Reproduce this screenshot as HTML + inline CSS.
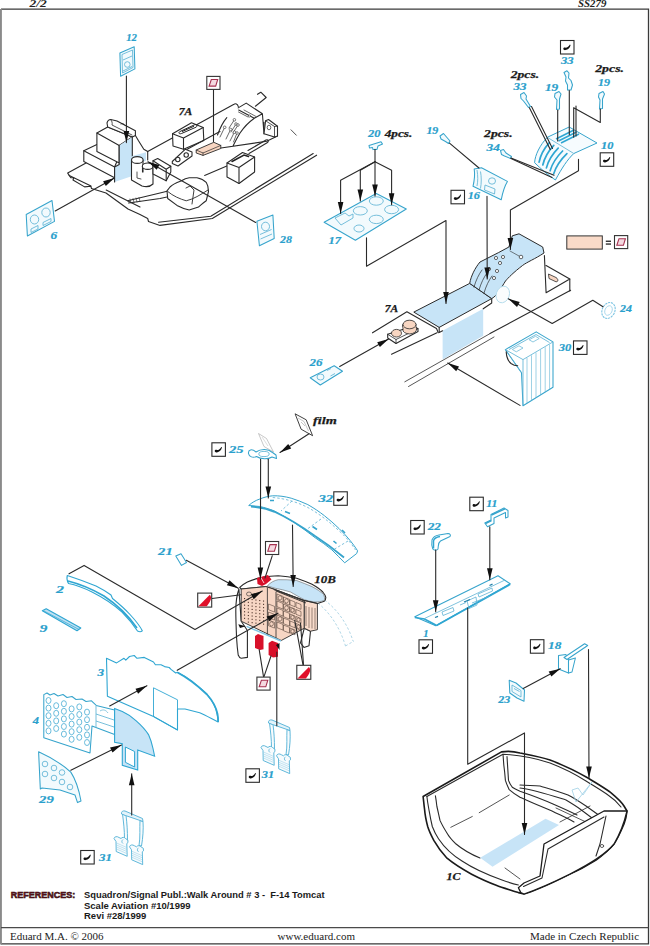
<!DOCTYPE html>
<html><head><meta charset="utf-8">
<style>
html,body{margin:0;padding:0;background:#fff;}
svg{display:block;}
.lb{font-family:"Liberation Serif",serif;font-weight:bold;font-style:italic;font-size:11px;fill:#2aa0cc;stroke:#2aa0cc;stroke-width:0.2;}
.bk{font-family:"Liberation Serif",serif;font-weight:bold;font-style:italic;font-size:11px;fill:#1a1a1a;stroke:#1a1a1a;stroke-width:0.25;}
.ln{fill:none;stroke:#2a2a2a;stroke-width:1.1;stroke-linejoin:round;stroke-linecap:round;}
.ol{fill:#fff;stroke:#2a2a2a;stroke-width:1.1;stroke-linejoin:round;}
.cy{fill:#f2fafd;stroke:#36a4cc;stroke-width:1.05;stroke-linejoin:round;}
.cyl{fill:none;stroke:#5eb3d4;stroke-width:0.85;}
.bl{fill:#c7e4f7;stroke:none;}
.ft{font-family:"Liberation Serif",serif;font-size:11px;fill:#222;}
.rf{font-family:"Liberation Sans",sans-serif;font-weight:bold;font-size:9.5px;fill:#1a1a1a;}
</style></head>
<body>
<svg width="650" height="946" viewBox="0 0 650 946">
<defs>
  <marker id="ar" viewBox="0 0 10 10" refX="10" refY="5" markerWidth="7" markerHeight="5" orient="auto" markerUnits="userSpaceOnUse">
    <path d="M0,0 L10,5 L0,10 z" fill="#111"/>
  </marker>
  <g id="p31">
    <path d="M122.5,814 C123.5,822 124.5,830 124.5,839 L127.5,840 C127.5,831 127,823 126,815.5 Z" fill="#f7fbfd" stroke="#4fb0d6" stroke-width="0.9"/>
    <path d="M140,820.5 L143,821.5 C143.5,829 143,837 141.5,846 L139,845.5 C140.5,837 139.5,828 140,820.5 Z" fill="#f7fbfd" stroke="#4fb0d6" stroke-width="0.9"/>
    <path d="M121.5,814 C121,811.5 123,810.5 125,811 L142.5,818.5 L143,821.5 L125.5,815.5 Z" fill="#e3f3fa" stroke="#4fb0d6" stroke-width="0.9" stroke-linejoin="round"/>
    <path d="M114,838.5 C114.5,836.5 117,836 119,837.5 L121,838.5 C122,837 124.5,837 125.5,838.5 L127.8,840 L128,842.5 L126.8,843.5 L127.2,856.3 L116.2,851.5 L116,841.5 Z" fill="#f7fbfd" stroke="#4fb0d6" stroke-width="0.9" stroke-linejoin="round"/>
    <path d="M116.5,845 L126.8,849.5 M116.5,847 L126.8,851.5 M116.5,849 L126.8,853.5 M116.5,843 L126.8,847.5" fill="none" stroke="#8ccbe4" stroke-width="0.5"/>
    <path d="M123,839.5 C121.5,840.5 121.5,842.5 123,843.5" fill="none" stroke="#4fb0d6" stroke-width="0.8"/>
    <g transform="translate(15.5,8.3)"><path d="M114,838.5 C114.5,836.5 117,836 119,837.5 L121,838.5 C122,837 124.5,837 125.5,838.5 L127.8,840 L128,842.5 L126.8,843.5 L127.2,856.3 L116.2,851.5 L116,841.5 Z" fill="#f7fbfd" stroke="#4fb0d6" stroke-width="0.9" stroke-linejoin="round"/>
    <path d="M116.5,845 L126.8,849.5 M116.5,847 L126.8,851.5 M116.5,849 L126.8,853.5 M116.5,843 L126.8,847.5" fill="none" stroke="#8ccbe4" stroke-width="0.5"/>
    <path d="M123,839.5 C121.5,840.5 121.5,842.5 123,843.5" fill="none" stroke="#4fb0d6" stroke-width="0.8"/></g>
  </g>
  <g id="chk">
    <rect x="0.5" y="0.5" width="13.5" height="13.5" fill="#fff" stroke="#2a2a2a" stroke-width="1.1"/>
    <path d="M3.3,8.7 C3.3,7.5 4.7,7.1 5.7,7.7 C7.3,7.7 8.9,6.7 9.9,4.6 L10.6,4.9 C10,7.7 8.1,9.7 5.5,10.1 C4.3,10.3 3.3,9.7 3.3,8.7 Z" fill="#111"/>
  </g>
  <g id="pnt">
    <rect x="0.5" y="0.5" width="13.2" height="13" fill="#fff" stroke="#333" stroke-width="1.1"/>
    <path d="M5,3.6 L11.4,3.6 L9.4,10.2 L2.8,10.2 z" fill="#f4d9e0" stroke="#a5304f" stroke-width="1.1"/>
  </g>
  <g id="hrd">
    <rect x="0.5" y="0.5" width="14" height="14" fill="#fff" stroke="#333" stroke-width="1.1"/>
    <path d="M1.2,13.6 L12.6,2.2 C14.2,3.6 14.2,6 13,8.5 C12,10.5 10.8,12.3 9.6,13.6 Z" fill="#e0102a"/>
  </g>
</defs>

<!-- frame -->
<g id="frame">
  <path d="M1,9.2 H648.5 V943.9 H1" fill="none" stroke="#3a3a3a" stroke-width="1.3"/><rect x="0" y="9" width="1.9" height="935.5" fill="#8a8a8a"/>
  <path d="M1,927.6 H648.5" stroke="#4a4a4a" stroke-width="1.4"/>
  <text x="29.5" y="7" class="ft" style="font-style:italic;font-weight:bold;font-size:10px" textLength="17.3" lengthAdjust="spacingAndGlyphs">2/2</text>
  <text x="578" y="7" class="ft" style="font-style:italic;font-weight:bold;font-size:10px" textLength="28.4" lengthAdjust="spacingAndGlyphs">SS279</text>
  <text x="10" y="940" class="ft">Eduard M.A. © 2006</text>
  <text x="277.5" y="940" class="ft">www.eduard.com</text>
  <text x="530" y="940" class="ft">Made in Czech Republic</text>
  <text x="10.8" y="898" class="rf" style="font-size:9.6px;fill:#7a1525;stroke:#2a0a0a;stroke-width:0.55" textLength="64.5" lengthAdjust="spacingAndGlyphs">REFERENCES:</text>
  <text x="84" y="898" class="rf" textLength="240.6" lengthAdjust="spacingAndGlyphs" xml:space="preserve">Squadron/Signal Publ.:Walk Around # 3 -  F-14 Tomcat</text>
  <text x="84" y="908.5" class="rf">Scale Aviation #10/1999</text>
  <text x="84" y="919" class="rf">Revi #28/1999</text>
</g>


<g id="tla">
  <!-- plate silhouette -->
  <path fill="#fff" d="M67.7,173.1 L91.5,160 L91.5,151 L83.8,150.8 L96.9,144.6 L96.9,133.1 L107,122.3 L110.8,119.2 L117,121.5 L135.4,131.5 L135.4,135.4 L138.5,140.8 L143.8,149.2 L147.7,151.5 L175.4,139.2 L199.4,123.4 L233.8,105.1 L238.2,106.2 L244.6,104 L258.6,110.5 L263,112.6 L264,122.3 L268.3,120.2 L277,125.5 L278,136.3 L274.8,138.5 L300,150 L316.6,155.2 L240,205.4 L212.3,218.5 L160,225.4 L148.5,221.5 L147.7,218.5 L140,214.6 L128,209 L106,193 L91.5,188.5 L90.8,186.2 L84.6,186.9 L73,180 L73.8,177.7 L70.8,177.7 L69.2,175.4 Z"/>
  <path class="ln" d="M91.5,160 L67.7,173.1 L69.2,175.4 L70.8,177.7 L73.8,177.7 L73,180 L84.6,186.9 L90.8,186.2 L91.5,188.5 L106,193 L128,209 L140,214.6 L147.7,218.5 L148.5,221.5 L160,225.4 L212.3,218.5 L316.6,155.2"/>
  <path class="ln" d="M147.7,151.5 L234,104.2 C235.5,103.3 237.5,104 238.3,106.7"/>
  <path class="ln" d="M69.2,175.4 L91,186 M106.2,190 L128,201 L140,207 M158.5,222.3 L210.8,216.2 L313.2,153.5"/>
  <path class="ln" d="M127.7,200.8 L160,193 L169.2,190.8 M128.5,203 L160,198.5 L167,197 M204.6,175.4 L228,165.5"/>
  <path class="ln" d="M248,150.5 L266,140 C268,139 269,141 267.5,142.5 L249,153.5"/>
  <path class="ln" style="stroke-width:0.6" d="M130,199 L131,203 M133,198.5 L134,202.5 M136,198 L137,202 M139,197.5 L140,201.5"/>
  <!-- step block -->
  <path class="ol" d="M83.8,150.8 L96.9,144.6 L119.2,156 L114.6,167 L114.6,177.7 L83.8,161.5 Z"/>
  <path class="ln" d="M83.8,150.8 L114.6,167"/>
  <!-- top box -->
  <path class="ol" d="M96.9,133.1 L107.7,126.9 L132.3,136.9 L119.2,145.4 L119.2,163 L96.9,151.5 Z"/>
  <path class="ln" d="M96.9,133.1 L119.2,145.4"/>
  <path class="ol" d="M107,123 C107.5,121 109,119.5 110.8,119.5 L117,121 L135.4,130.8 L135.4,135.4 L132.3,137 L107.7,127 Z"/>
  <path class="ln" style="stroke-width:0.8" d="M110.8,119.5 C112,121 112.5,123 112,125 L132,135 M121,124 C122,123 124,123.5 124.5,125"/>
  <!-- blue panel -->
  <path d="M119.2,145.4 L132.3,136.9 L132.3,176 L114.6,182 L114.6,167 L119.2,164.5 Z" fill="#c7e4f7"/>
  <path class="ln" d="M119.2,145.4 L119.2,164.5 L114.6,167 L114.6,182 M132.3,136.9 L132.3,156"/>
  <path d="M132.3,156 L146,152.3 L146,160.8 L132.3,165 Z" fill="#c7e4f7"/>
  <path class="ln" d="M135.4,135.4 L138.5,140.8 L143.8,149.2 L147.7,151.5 L147.7,160"/>
  <!-- cylinders -->
  <path class="ol" d="M131.5,177.7 L131.5,160 L143,160 L143,172 L142.5,172 L142.5,166 L153,166 L153,184 C150,187 146,187 142,186 L131.5,180 Z"/>
  <ellipse cx="137.3" cy="160" rx="5.8" ry="3.4" class="ol"/>
  <ellipse cx="147.7" cy="166.2" rx="5.4" ry="3.2" class="ol"/>
  <path class="ln" style="stroke-width:0.8" d="M137,172 L137,178 L141,179"/>
  <!-- small block near arrow -->
  <path class="ol" d="M153,160.8 L157.7,158.5 L170.8,166.2 L170.8,172 L166.2,180.8 L153,174 Z"/>
  <path class="ln" d="M153,160.8 L166.2,169.2 L170.8,166.2 M166.2,169.2 L166.2,180.8"/>
  <!-- monitor 1 -->
  <path class="ol" d="M172.5,133.8 L191.5,122.7 L203.2,127.6 L203.8,140.5 L183.5,149.2 L173,146 Z"/>
  <path class="ln" d="M172.5,133.8 L183.5,138 L203.2,127.6 M183.5,138 L183.5,149.2"/>
  <path fill="none" stroke="#222" stroke-width="1" d="M180,131.5 L194.5,124.8 C196.5,124 198,126 196,127.2 L181.5,133.5 C179,134.5 178,132.5 180,131.5 Z M182,131.6 L194,126.2"/>
  <path class="ln" d="M187.2,149.2 L214.3,134.4 L220,131.5"/>
  <!-- buttons -->
  <path class="ol" d="M172.3,161.5 L185.4,149.2 L192,152 L192,156 L178,166 L172.3,163.5 Z"/>
  <circle cx="177.8" cy="159.5" r="2.2" class="ol"/><circle cx="186.2" cy="155" r="2.2" class="ol"/>
  <!-- peach box -->
  <path d="M196.2,150 L213.8,142.3 L220.8,145.4 L220.8,148.5 L203,155.4 L196.2,153 Z" fill="#f8d6c2" stroke="#2a2a2a" stroke-width="0.9"/>
  <path class="ln" d="M196.2,150 L203,153 L220.8,145.4 M203,153 L203,155.4" style="stroke-width:0.7"/>
  <!-- console ridge / block -->
  <path class="ln" d="M238.2,107.9 L246.2,103.1 L262.4,113.8 L264,133.8 M238.7,110 L254.3,118.2 L262.4,113.8 M254.3,118.2 C249,122 244,127 240,133 C237,138 235,142 233,146 M226.8,117.6 C223,122 220,128 217.5,135 M221,148 L266.7,141.3 L277.5,136 M264,122.3 L264,133.8"/>
  <path class="ln" style="stroke-width:0.7" d="M234.4,119.8 L229,128 M236,124 L231,132 M238,125 L233,133 M224.7,127.3 L220,137 M230.6,129.5 L226,139 M234.4,132.2 L230,141 M237,133 L233.5,142 M238.5,112 L248,117 M244,110 L256,116.5"/>
  <circle cx="234.4" cy="119.8" r="1.3" class="ol" style="stroke-width:0.6"/><circle cx="236" cy="124" r="1.3" class="ol" style="stroke-width:0.6"/><circle cx="238" cy="125" r="1.3" class="ol" style="stroke-width:0.6"/>
  <circle cx="224.7" cy="127.3" r="1.3" class="ol" style="stroke-width:0.6"/><circle cx="230.6" cy="129.5" r="1.3" class="ol" style="stroke-width:0.6"/><circle cx="234.4" cy="132.2" r="1.3" class="ol" style="stroke-width:0.6"/><circle cx="237" cy="133" r="1.3" class="ol" style="stroke-width:0.6"/>
  <circle cx="249.5" cy="116" r="1.1" class="ol" style="stroke-width:0.6"/>
  <path class="ol" d="M265.6,120.8 L268.5,119.5 L277.5,126.2 L277.5,136 L274.5,137 L264,133.8 Z"/>
  <path class="ln" style="stroke-width:0.8" d="M265.6,120.8 L274.5,126.5 L277.5,126.2 M274.5,126.5 L274.5,137"/>
  <ellipse cx="269" cy="127.5" rx="1.8" ry="2.3" class="ol" style="stroke-width:0.7"/>
  <!-- monitor 2 -->
  <path class="ol" d="M227,163 L242.5,152.5 L254.6,157 L254.6,172 L239,183.5 L227,177 Z"/>
  <path class="ln" d="M227,163 L239,167.5 L254.6,157 M239,167.5 L239,183.5"/>
  <path fill="none" stroke="#222" stroke-width="1.5" stroke-linecap="round" d="M232,161.5 L244,155 L248.5,156.5"/>
  <!-- pedal -->
  <path class="ol" d="M167,190.8 L170,187 C174,183 178,182 181.5,180.8 C184,179 186,178 189.2,177.7 L197,177.7 C201,178.5 204,180 206.2,182.3 C208,185 208.5,188 208.5,191.5 L206.2,200.8 C203,203 201,205 198.5,207 L189.2,210 C185,209 181,207.5 177,205.4 L167.7,198.5 Z"/>
  <path class="ln" style="stroke-width:0.9" d="M167.7,191.5 C173,196 180,199 186.2,200.8 C194,199 200,195 208,190 M186,188 L190,186 L194,190 L192,204"/>
  <!-- hook / small marks -->
  <path class="ln" d="M257.5,94.3 L260.8,92.2 L266.2,97.5 L255.4,106.2"/>
  <path class="ln" d="M291,129.8 L296.3,135.2" style="stroke-width:0.8"/>
</g>



<g id="console">
  <!-- body silhouette (white) -->
  <path fill="#fff" d="M413.8,312.1 L469.7,283.4 C472,275 476,267 480,261 L498.7,252 L508.9,247 L512.3,235.2 L519,233.5 L542.7,247 L544.4,255.5 L546.1,265.6 L569.8,279 L569.8,291 L542.7,306.2 L491.7,334 L483.2,338 L442.6,359.5 L439.2,332.5 Z"/>
  <path class="ln" d="M569.8,279 L569.8,291"/>
  <!-- blue panel -->
  <path d="M413.8,312.1 L469.7,283.4 L491.7,298.6 L439.2,327.4 Z" fill="#c7e4f7" stroke="#2a2a2a" stroke-width="1"/>
  <path d="M442.6,330.8 L483.2,308.8 L483.2,335.8 L442.6,359.5 Z" fill="#c7e4f7"/>
  <path class="ln" d="M439.2,327.4 L439.2,332.5 L442.6,330.8 M491.7,298.6 L491.7,303 L483.2,308.8"/>
  <!-- curved upper blue -->
  <path d="M469.7,283.4 C471,276 475,268 480,262 L498.7,252.5 L508.9,247 L512.3,235.8 L519,233.8 L542.7,247 L544,253 C535,259 527,262 522.4,265.6 C514,272 508,278 505.5,281 C501,288 498,295 491.7,298.6 Z" fill="#c7e4f7" stroke="#2a2a2a" stroke-width="1"/>
  <path class="ln" style="stroke-width:0.7" d="M474,287 C476,280 479,274 482,270 M479,290 C481,283 484,277 487,273 M484,293 C486,286 489,280 492,276"/>
  <circle cx="489" cy="269" r="1.6" class="ol" style="stroke-width:0.7"/><circle cx="494" cy="278" r="1.6" class="ol" style="stroke-width:0.7"/><circle cx="497" cy="271" r="1.6" class="ol" style="stroke-width:0.7"/>
  <circle cx="496" cy="258" r="1.6" class="ol" style="stroke-width:0.7"/><circle cx="500" cy="263" r="1.6" class="ol" style="stroke-width:0.7"/><circle cx="503" cy="257" r="1.6" class="ol" style="stroke-width:0.7"/>
  <circle cx="521" cy="257" r="1.8" class="ol" style="stroke-width:0.7"/>
  <path class="ln" style="stroke-width:0.6" d="M510,251 L519,256"/>
  <!-- body right side -->
  <path class="ln" d="M544.4,255.5 L546.1,292.7 M546.1,265.6 L569.8,279 M546.1,292.7 L569.8,279"/>
  <path d="M548.5,274 L556,277.5 C558.5,279 558.5,282 556,281.8 L549,278.5 Z" fill="#f8d6c2" stroke="#2a2a2a" stroke-width="0.8"/>
  <!-- knob -->
  <ellipse cx="502.8" cy="294.5" rx="6.5" ry="8.5" fill="#fafcfd" stroke="#b5dcec" stroke-width="0.9" transform="rotate(20 502.8 294.5)"/>
  <!-- rails -->
  <path class="ln" d="M391.5,354.3 L437,332.8 M490,333.5 L570.6,290.3"/>
  <path class="ln" style="stroke-width:0.9;stroke:#444" d="M404.8,381.8 L489.7,333.8 M408.5,386.5 L494,337"/>
  <path class="ln" d="M372.5,332.8 L406.9,311.8 L436.5,328.5 L438.3,332.8"/>
  <!-- 7A small part -->
  <path class="ol" d="M387.7,334.3 L413.5,326 L418,328.8 L418,331.5 L396,343.5 L387.7,338 Z"/>
  <path class="ln" d="M387.7,334.3 L396,339.5 L418,328.8 M396,339.5 L396,343.5" style="stroke-width:0.8"/>
  <ellipse cx="396.5" cy="333.2" rx="5" ry="3.8" fill="#f8d6c2" stroke="#2a2a2a" stroke-width="0.8"/>
  <path d="M403,328 A6.5,4.5 0 0 1 416,324 L416,327 A6.5,4.5 0 0 1 403,331 Z" fill="#f8d6c2" stroke="#2a2a2a" stroke-width="0.8"/>
  <ellipse cx="409.5" cy="324.5" rx="6.5" ry="4.3" fill="#f8d6c2" stroke="#2a2a2a" stroke-width="0.8"/>
  <!-- 30 -->
  <path class="cy" style="fill:#fff" d="M505.4,349.6 L536.2,331.9 L553,341.9 L553,387.3 L523,405.8 L521.5,372.7 Z"/>
  <path class="cyl" d="M505.4,349.6 L523,359.6 L553,341.9 M523,359.6 L523,405.8 M509,349.5 L536,334.5 L549.5,342.5 M505.4,349.6 L521.5,372.7"/>
  <path class="cyl" style="stroke-width:0.6" d="M527,358 L527,403.3 M531.5,355.3 L531.5,400.5 M536,352.6 L536,397.7 M540.6,349.9 L540.6,395 M545.2,347.2 L545.2,392.2 M549.6,344.6 L549.6,389.5"/>
  <path class="cyl" style="stroke-width:0.7" d="M512.3,349.5 L519,345.8 L523,348 L516.3,351.8 Z M529.2,339.8 L535.5,336.3 L539.2,338.5 L533,342 Z"/>
  <path class="ln" d="M506.2,351.9 C506.5,357 508,361 511,363.5 C513,365 515.5,365.8 517.7,365.8"/>
  </g>


<g id="panel10b">
  <path fill="none" stroke="#9ccbe0" stroke-width="0.8" stroke-dasharray="2.5 2" d="M324.5,600 C338,610 348,625 353,641 M318,603 C331,614 340,628 345.5,646 M345.5,646 L354,641"/>
  <!-- legs -->
  <path class="ol" d="M238.9,589 C236.5,596 235.8,603 235.8,610.5 C235.8,620 236.2,629 236.6,638.2 C237,645 237.5,650 238.2,655 C239,657 240,658 241.2,658.2 L247.4,657.4 L247.4,630.5 L241.2,621.2 Z"/>
  <path class="ol" d="M304.3,628.2 L310.5,631.2 L309,645.8 L304,647.4 L300.5,643 Z"/>
  <!-- cap -->
  <path class="ol" d="M239.7,587.4 C242,585 244.5,583.5 247.4,582 C252,579.8 257,578.3 262.8,577.4 C268,576.3 273,575.8 278.2,575.8 C285,576.2 291,577 296.6,578.2 C302,580 307,582 312,584.3 C316,586.5 320,589 322.8,592 C324.5,594 325.5,595.5 325.8,597.4 C325.8,599 325.2,600.3 324.3,601.2 L317.4,603.5 L304.3,600.5 L273.5,589 L265.8,586.6 L241.2,589 Z"/>
  <path d="M267.4,585.8 C270.5,582.5 274,580.5 278.2,579.7 C284,579.5 290,579.8 296.6,580.5 C302,582.5 307,584.5 312,586.6 C316.5,589 320.5,591.5 323.5,594.3 C324.5,596.5 324.8,598.5 324.3,600.5 C321,601.5 318,602 315,602 C311,601.5 307.5,600.8 304.3,599.7 C299,597 295,594.5 290.5,592 C285.5,590.5 280,589 275,588.2 Z" fill="#c7e4f7" stroke="#666" stroke-width="0.6"/>
  <!-- peach faces -->
  <path d="M241.2,589 L265.8,586.6 L273.5,589 L304.3,600.5 L304.3,628.2 L281.2,640.5 L241.2,621.2 Z" fill="#f7d6c4" stroke="#2a2a2a" stroke-width="0.9"/>
  <path d="M304.3,600.5 L317.4,603.5 L317.4,629.7 L310.5,631.2 L304.3,628.2 Z" fill="#f9dccc" stroke="#2a2a2a" stroke-width="0.9"/>
  <path class="ln" style="stroke-width:0.8" d="M267.4,588 L267.4,635 M276,592 L276,638 M304.3,600.5 L317.4,603.5"/>

<rect x="244.0" y="598.0" width="1.1" height="1.1" fill="#4a3026"/>
<rect x="244.0" y="601.3" width="1.1" height="1.1" fill="#4a3026"/>
<rect x="244.0" y="604.6" width="1.1" height="1.1" fill="#4a3026"/>
<rect x="244.0" y="607.9" width="1.1" height="1.1" fill="#4a3026"/>
<rect x="244.0" y="611.2" width="1.1" height="1.1" fill="#4a3026"/>
<rect x="244.0" y="614.5" width="1.1" height="1.1" fill="#4a3026"/>
<rect x="244.0" y="617.8" width="1.1" height="1.1" fill="#4a3026"/>
<rect x="247.8" y="598.5" width="1.1" height="1.1" fill="#4a3026"/>
<rect x="247.8" y="601.8" width="1.1" height="1.1" fill="#4a3026"/>
<rect x="247.8" y="605.1" width="1.1" height="1.1" fill="#4a3026"/>
<rect x="247.8" y="608.4" width="1.1" height="1.1" fill="#4a3026"/>
<rect x="247.8" y="611.7" width="1.1" height="1.1" fill="#4a3026"/>
<rect x="247.8" y="615.0" width="1.1" height="1.1" fill="#4a3026"/>
<rect x="247.8" y="618.3" width="1.1" height="1.1" fill="#4a3026"/>
<rect x="247.8" y="621.6" width="1.1" height="1.1" fill="#4a3026"/>
<rect x="251.6" y="599.0" width="1.1" height="1.1" fill="#4a3026"/>
<rect x="251.6" y="602.3" width="1.1" height="1.1" fill="#4a3026"/>
<rect x="251.6" y="605.6" width="1.1" height="1.1" fill="#4a3026"/>
<rect x="251.6" y="608.9" width="1.1" height="1.1" fill="#4a3026"/>
<rect x="251.6" y="612.2" width="1.1" height="1.1" fill="#4a3026"/>
<rect x="251.6" y="615.5" width="1.1" height="1.1" fill="#4a3026"/>
<rect x="251.6" y="618.8" width="1.1" height="1.1" fill="#4a3026"/>
<rect x="251.6" y="622.1" width="1.1" height="1.1" fill="#4a3026"/>
<rect x="255.4" y="599.5" width="1.1" height="1.1" fill="#4a3026"/>
<rect x="255.4" y="602.8" width="1.1" height="1.1" fill="#4a3026"/>
<rect x="255.4" y="606.1" width="1.1" height="1.1" fill="#4a3026"/>
<rect x="255.4" y="609.4" width="1.1" height="1.1" fill="#4a3026"/>
<rect x="255.4" y="612.7" width="1.1" height="1.1" fill="#4a3026"/>
<rect x="255.4" y="616.0" width="1.1" height="1.1" fill="#4a3026"/>
<rect x="255.4" y="619.3" width="1.1" height="1.1" fill="#4a3026"/>
<rect x="255.4" y="622.6" width="1.1" height="1.1" fill="#4a3026"/>
<rect x="259.2" y="600.0" width="1.1" height="1.1" fill="#4a3026"/>
<rect x="259.2" y="603.3" width="1.1" height="1.1" fill="#4a3026"/>
<rect x="259.2" y="606.6" width="1.1" height="1.1" fill="#4a3026"/>
<rect x="259.2" y="609.9" width="1.1" height="1.1" fill="#4a3026"/>
<rect x="259.2" y="613.2" width="1.1" height="1.1" fill="#4a3026"/>
<rect x="259.2" y="616.5" width="1.1" height="1.1" fill="#4a3026"/>
<rect x="259.2" y="619.8" width="1.1" height="1.1" fill="#4a3026"/>
<rect x="259.2" y="623.1" width="1.1" height="1.1" fill="#4a3026"/>
<rect x="263.0" y="600.5" width="1.1" height="1.1" fill="#4a3026"/>
<rect x="263.0" y="603.8" width="1.1" height="1.1" fill="#4a3026"/>
<rect x="263.0" y="607.1" width="1.1" height="1.1" fill="#4a3026"/>
<rect x="263.0" y="610.4" width="1.1" height="1.1" fill="#4a3026"/>
<rect x="263.0" y="613.7" width="1.1" height="1.1" fill="#4a3026"/>
<rect x="263.0" y="617.0" width="1.1" height="1.1" fill="#4a3026"/>
<rect x="263.0" y="620.3" width="1.1" height="1.1" fill="#4a3026"/>
<rect x="263.0" y="623.6" width="1.1" height="1.1" fill="#4a3026"/>
<path d="M277,594 l6,2.4 l0,5.7 l-6,-2.4 z" fill="none" stroke="#3a2a22" stroke-width="0.5"/>
<ellipse cx="280.0" cy="597.9" rx="1.9" ry="2.1" fill="none" stroke="#3a2a22" stroke-width="0.5"/>
<path d="M283.5,597 l6,2.4 l0,5.7 l-6,-2.4 z" fill="none" stroke="#3a2a22" stroke-width="0.5"/>
<ellipse cx="286.5" cy="600.9" rx="1.9" ry="2.1" fill="none" stroke="#3a2a22" stroke-width="0.5"/>
<path d="M290,600 l5,2.0 l0,4.8 l-5,-2.0 z" fill="none" stroke="#3a2a22" stroke-width="0.5"/>
<path d="M296,602.5 l5,2.0 l0,4.8 l-5,-2.0 z" fill="none" stroke="#3a2a22" stroke-width="0.5"/>
<path d="M277,601 l6,2.4 l0,5.7 l-6,-2.4 z" fill="none" stroke="#3a2a22" stroke-width="0.5"/>
<path d="M283.5,604 l6,2.4 l0,5.7 l-6,-2.4 z" fill="none" stroke="#3a2a22" stroke-width="0.5"/>
<ellipse cx="286.5" cy="607.9" rx="1.9" ry="2.1" fill="none" stroke="#3a2a22" stroke-width="0.5"/>
<path d="M290,607 l5,2.0 l0,4.8 l-5,-2.0 z" fill="none" stroke="#3a2a22" stroke-width="0.5"/>
<ellipse cx="292.5" cy="610.2" rx="1.6" ry="1.8" fill="none" stroke="#3a2a22" stroke-width="0.5"/>
<path d="M296,609.5 l5,2.0 l0,4.8 l-5,-2.0 z" fill="none" stroke="#3a2a22" stroke-width="0.5"/>
<path d="M277,608 l6,2.4 l0,5.7 l-6,-2.4 z" fill="none" stroke="#3a2a22" stroke-width="0.5"/>
<path d="M283.5,611 l6,2.4 l0,5.7 l-6,-2.4 z" fill="none" stroke="#3a2a22" stroke-width="0.5"/>
<path d="M290,614 l5,2.0 l0,4.8 l-5,-2.0 z" fill="none" stroke="#3a2a22" stroke-width="0.5"/>
<ellipse cx="292.5" cy="617.2" rx="1.6" ry="1.8" fill="none" stroke="#3a2a22" stroke-width="0.5"/>
<path d="M296,616.5 l5,2.0 l0,4.8 l-5,-2.0 z" fill="none" stroke="#3a2a22" stroke-width="0.5"/>
<ellipse cx="298.5" cy="619.8" rx="1.6" ry="1.8" fill="none" stroke="#3a2a22" stroke-width="0.5"/>
<path d="M277,615 l6,2.4 l0,5.7 l-6,-2.4 z" fill="none" stroke="#3a2a22" stroke-width="0.5"/>
<ellipse cx="280.0" cy="618.9" rx="1.9" ry="2.1" fill="none" stroke="#3a2a22" stroke-width="0.5"/>
<path d="M283.5,618 l6,2.4 l0,5.7 l-6,-2.4 z" fill="none" stroke="#3a2a22" stroke-width="0.5"/>
<path d="M290,621 l5,2.0 l0,4.8 l-5,-2.0 z" fill="none" stroke="#3a2a22" stroke-width="0.5"/>
<path d="M296,623.5 l5,2.0 l0,4.8 l-5,-2.0 z" fill="none" stroke="#3a2a22" stroke-width="0.5"/>
<ellipse cx="298.5" cy="626.8" rx="1.6" ry="1.8" fill="none" stroke="#3a2a22" stroke-width="0.5"/>
<path d="M268.5,604 l6,2.4 l0,5.7 l-6,-2.4 z" fill="none" stroke="#3a2a22" stroke-width="0.5"/>
<path d="M268.5,612 l6,2.4 l0,5.7 l-6,-2.4 z" fill="none" stroke="#3a2a22" stroke-width="0.5"/>
<path d="M268.5,620 l6,2.4 l0,5.7 l-6,-2.4 z" fill="none" stroke="#3a2a22" stroke-width="0.5"/>
<ellipse cx="271.5" cy="623.9" rx="1.9" ry="2.1" fill="none" stroke="#3a2a22" stroke-width="0.5"/>
<path d="M277,622 l6,2.4 l0,5.7 l-6,-2.4 z" fill="none" stroke="#3a2a22" stroke-width="0.5"/>
<path d="M283.5,625 l6,2.4 l0,5.7 l-6,-2.4 z" fill="none" stroke="#3a2a22" stroke-width="0.5"/>
<path d="M290,628 l5,2.0 l0,4.8 l-5,-2.0 z" fill="none" stroke="#3a2a22" stroke-width="0.5"/>
<ellipse cx="292.5" cy="631.2" rx="1.6" ry="1.8" fill="none" stroke="#3a2a22" stroke-width="0.5"/>
  <ellipse cx="249" cy="594" rx="2.5" ry="2" fill="none" stroke="#2a2a2a" stroke-width="0.6"/>
  <path fill="none" stroke="#3a2a22" stroke-width="0.5" d="M306,606 L306,626 M309,607 L309,628 M312,607.5 L312,628.5 M315,608 L315,629"/>
  <path fill="none" stroke="#2a2a2a" stroke-width="0.9" d="M273.5,589.5 L304.3,601 M276,591 L306,603"/>
  <!-- bottom cyan strip -->
  <path fill="none" stroke="#7fc6e6" stroke-width="1.4" d="M246.6,626.4 L281,641"/>
  <!-- red blocks -->
  <path d="M255,636 L258,634 L263.5,636 L263.5,649.2 L260,650 L255,648 Z" fill="#d8102a"/>
  <path d="M268.6,643 L272,640.8 L278,643 L278,656.8 L273,657.5 L268.6,655 Z" fill="#d8102a"/>
  <!-- red blob top -->
  <path d="M257,578 L268,575 L271.5,579.5 L266,584 L262,586 L257.5,584 Z" fill="#d8102a"/>
  <path d="M260.5,577 L264,583" stroke="#fff" stroke-width="0.8"/>
  <path d="M238.3,624.3 L245.7,626.2 L240,628 Z" fill="#111"/>
  <path d="M276,645 L279.5,643 L279.5,650 Z" fill="#111"/>
</g>

<g id="p34">
  <!-- part 3 -->
  <path fill="#fff" stroke="#2fa6d2" stroke-width="1.1" stroke-linejoin="round" d="M106.5,658.3 L116.6,662.9 L124,658.3 L125.8,660.2 L129.5,656.5 L134.2,655.5 L137,658.3 L144.3,657.4 L153.5,662 L155.4,664.8 L161,664.8 L164.6,666.6 L169.2,667.5 L171,669.4 L175.7,673 L177.5,672.2 C183,675 188,678 192.3,681.4 C198,686 203,690 207,694.3 C210,698 212.5,701.5 214.5,705.4 C216,708.5 217,711.5 217.2,714.6 C217.8,717 218.1,719.5 218.1,722 C212,719 206,715.5 199.7,712.8 L185,709 L177.5,709 L177.5,730 L153.5,716.5 L107.4,696.2 Z"/>
  <path fill="none" stroke="#2fa6d2" stroke-width="1.8" d="M177.5,672.5 C188,678 198,686 207,694.5 C212,700 216,707 217.5,714 C218,717 218.3,720 218.1,722"/>
  <path fill="none" stroke="#2fa6d2" stroke-width="0.9" d="M153.5,687.8 L177.5,699.8 L177.5,730 L153.5,716.5 Z"/>
  <!-- part 4 -->
  <path class="cy" style="fill:#fff" d="M43.8,694.6 L47,693 L50,695 L54,693.5 L58,696 L63,694.5 L67,697.5 L72,696.5 L76,699.5 L82,699 L86,701.5 L91.5,700.8 L96.2,705.4 L114.6,710 L114.6,734.6 L92,726 L90,753 L43.8,737.7 Z"/>
  <path class="cyl" d="M96,706 L96,728 M96,714 L114,720 M96,721 L114,727"/>
  <path class="cyl" style="stroke-width:0.7" d="M100,711 C103,709 106,710 108,713"/>
      <ellipse cx="48.5" cy="700.5" rx="2.5" ry="3" class="cyl" style="stroke:#4fb0d6"/>
  <ellipse cx="48.5" cy="708.1" rx="2.5" ry="3" class="cyl" style="stroke:#4fb0d6"/>
  <ellipse cx="48.5" cy="715.7" rx="2.5" ry="3" class="cyl" style="stroke:#4fb0d6"/>
  <ellipse cx="48.5" cy="723.3" rx="2.5" ry="3" class="cyl" style="stroke:#4fb0d6"/>
  <ellipse cx="48.5" cy="730.9" rx="2.5" ry="3" class="cyl" style="stroke:#4fb0d6"/>
  <ellipse cx="56.2" cy="705.7" rx="2.5" ry="3" class="cyl" style="stroke:#4fb0d6"/>
  <ellipse cx="56.2" cy="713.3" rx="2.5" ry="3" class="cyl" style="stroke:#4fb0d6"/>
  <ellipse cx="56.2" cy="720.9" rx="2.5" ry="3" class="cyl" style="stroke:#4fb0d6"/>
  <ellipse cx="56.2" cy="728.5" rx="2.5" ry="3" class="cyl" style="stroke:#4fb0d6"/>
  <ellipse cx="63.9" cy="703.7" rx="2.5" ry="3" class="cyl" style="stroke:#4fb0d6"/>
  <ellipse cx="63.9" cy="711.3" rx="2.5" ry="3" class="cyl" style="stroke:#4fb0d6"/>
  <ellipse cx="63.9" cy="718.9" rx="2.5" ry="3" class="cyl" style="stroke:#4fb0d6"/>
  <ellipse cx="63.9" cy="726.5" rx="2.5" ry="3" class="cyl" style="stroke:#4fb0d6"/>
  <ellipse cx="63.9" cy="734.1" rx="2.5" ry="3" class="cyl" style="stroke:#4fb0d6"/>
  <ellipse cx="71.6" cy="708.9" rx="2.5" ry="3" class="cyl" style="stroke:#4fb0d6"/>
  <ellipse cx="71.6" cy="716.5" rx="2.5" ry="3" class="cyl" style="stroke:#4fb0d6"/>
  <ellipse cx="71.6" cy="724.1" rx="2.5" ry="3" class="cyl" style="stroke:#4fb0d6"/>
  <ellipse cx="71.6" cy="731.7" rx="2.5" ry="3" class="cyl" style="stroke:#4fb0d6"/>
  <ellipse cx="71.6" cy="739.3" rx="2.5" ry="3" class="cyl" style="stroke:#4fb0d6"/>
  <ellipse cx="79.3" cy="706.9" rx="2.5" ry="3" class="cyl" style="stroke:#4fb0d6"/>
  <ellipse cx="79.3" cy="714.5" rx="2.5" ry="3" class="cyl" style="stroke:#4fb0d6"/>
  <ellipse cx="79.3" cy="722.1" rx="2.5" ry="3" class="cyl" style="stroke:#4fb0d6"/>
  <ellipse cx="79.3" cy="729.7" rx="2.5" ry="3" class="cyl" style="stroke:#4fb0d6"/>
  <ellipse cx="79.3" cy="737.3" rx="2.5" ry="3" class="cyl" style="stroke:#4fb0d6"/>
  <ellipse cx="87.0" cy="712.1" rx="2.5" ry="3" class="cyl" style="stroke:#4fb0d6"/>
  <ellipse cx="87.0" cy="719.7" rx="2.5" ry="3" class="cyl" style="stroke:#4fb0d6"/>
  <ellipse cx="87.0" cy="727.3" rx="2.5" ry="3" class="cyl" style="stroke:#4fb0d6"/>
  <ellipse cx="87.0" cy="734.9" rx="2.5" ry="3" class="cyl" style="stroke:#4fb0d6"/>
  <ellipse cx="87.0" cy="742.5" rx="2.5" ry="3" class="cyl" style="stroke:#4fb0d6"/>
  <!-- blue part -->
  <path d="M114.6,708.5 L122.3,711.5 C128,714 132,717 136.2,720.8 C141,725 145,729 148.5,734.6 C150.5,739 152,744 153,748.5 L154.6,756.2 L137.7,750 L137.7,770 L122.3,765.4 L122.3,743.8 L114.6,742.3 Z" fill="#c7e4f7" stroke="#2fa6d2" stroke-width="1.1"/>
  <path d="M125.4,747 L134.6,751.5 L134.6,767 L125.4,762.3 Z" fill="#fff" stroke="#2fa6d2" stroke-width="1"/>
</g>


<g id="tub">
  <path fill="#fff" stroke="#1a1a1a" stroke-width="1.6" stroke-linejoin="round" d="M423.1,796.5 L501.5,751.9 C507,751 512,750.8 520,753 C530,755 541,757 550,760 C563,765 576,771 588,778 C596,783 603,787 610,792 C616,797 621,801 624,806 L627,811 C626.5,816 625.5,820 624,824 C621,831 618,838 614,844 C609,850 603,855 596,860 C588,865 579,870 570,874 C560,879 550,884 540,888 C534,890.5 529,892.5 524,894 L518.4,892.6 C511,890 503,888 496.2,885.2 C487.5,882 479,878 471.6,874.2 C462,869 454,864 447,858.2 C441,852 437,846 433.8,840.4 C431,835 429,831 427.7,826.5 C426,820 425,815 424.6,809.6 C424,805 423.5,800 423.1,796.5 Z"/>
  <!-- rim inner -->
  <path class="ln" d="M426.9,796.5 L503,754.2 C518,755 535,758 550,763 C563,768 575,774 586,781 C594,786 601,790 608,795 C614,799 618,803 621,807"/>
  <path class="ln" d="M426.9,796.5 C427.5,802 428.3,806 429.2,811.2 C430,816 431,821 432.3,826.5 C434,831 436,835 438.5,838.8 C444,847 452,855 462,861 C474,869 488,875 502,880 C509,882.5 514,884 518.4,885"/>
  <path class="ln" d="M435.4,795.8 C436,799 436.5,803 436.9,806.5 C438,811 439,816 440,820.4 C442,825 445,830 447.7,834.2 C450,838 453,841 455.4,843.5 C462,849 470,854 480,858"/>
  <!-- seat back -->
  <path class="ln" d="M503,754.2 C503.3,758 503.5,761 503.8,765 C504.5,770 505,775 505.4,780.4 C506.5,784 508,787 509.2,789.6 C512,792 516,795 520,797.3 C530,802 541,806 552,811 C560,815 567,818 574,822"/>
  <path class="ln" d="M507,756.5 C507.5,765 508,772 508.5,780.4 C509.5,783 511,785.5 512.3,787.3 C514.5,789 517,790 520,791.2 C531,795 542,799 553,804 C561,807.5 569,811 577,815"/>
  <path class="ln" d="M520,785 C527,785.5 533,785.5 540,786 C550,789 559,791.5 568,795 C574,798 580,802 586,806 L600,816"/>
  <path class="ln" d="M520,788 C535,790 550,795 566,800 C571,803 576,806 580,809 L592,818"/>
  <path class="ln" d="M556,808 L586,822 M560,822 L590,806" style="stroke-width:0.8"/>
  <!-- floor lines -->
  <path class="ln" style="stroke-width:0.8" d="M450.8,827.3 L472.3,816.5 M479.2,812.7 L509.2,795 M505,868 L520,879"/>
  <!-- blue strip -->
  <path d="M480.2,857.7 L545.5,818.8 L559,825 L492.5,866.8 Z" fill="#c7e4f7"/>
  <!-- front lip -->
  <path fill="#fff" stroke="#1a1a1a" stroke-width="1.3" stroke-linejoin="round" d="M627,811 L604,811 L544,844 L540,876 L524,883 L518.4,887.7 L520.8,892.6 L524,894 C534,890.5 550,884 570,874 C590,864 605,855 614,844 C620,834 624,824 627,811 Z"/>
  <path class="ln" d="M604,817 L548,849 L542,878 L523.5,886.5 M606,816 L600,844 L596,856"/>
  <circle cx="602" cy="846" r="1.6" class="ln" style="stroke-width:0.7"/>
  <!-- faint cyan ghost -->
  <path fill="none" stroke="#9fd0e6" stroke-width="0.8" d="M572,790 L578,788 L583,795 L592,782 M576,802 L592,782 M572,790 L576,802"/>
</g>

<g id="cyparts">
  <!-- 12 -->
  <path class="cy" d="M119.9,52.9 L134.2,46.8 L134.9,68.9 L120.6,76.3 Z"/>
  <path class="cyl" d="M122,54.5 L132.5,50 L133,67.5 L122.5,73 Z M123,60 L132,56 M123,71 L132,66.5"/>
  <circle cx="127.3" cy="64.5" r="2.8" class="cyl"/>
  <!-- 6 -->
  <path class="cy" d="M26.2,214.5 L52,200.5 L54.5,221.4 L27.4,236 Z"/>
  <ellipse cx="34.5" cy="219.5" rx="4.2" ry="4.5" class="cyl"/><ellipse cx="46" cy="212.5" rx="4.2" ry="4.5" class="cyl"/>
  <path class="cyl" d="M31,229 L38,225.5 L38,229 L31,232.5 Z M43,222.5 L51,218.5 L51,221.5 L43,225.5 Z"/>
  <!-- 28 -->
  <path class="cy" d="M256.9,221.2 L272.9,215 L274.2,238.5 L259.4,245.8 Z"/>
  <ellipse cx="265.5" cy="226.5" rx="4" ry="4.3" class="cyl"/>
  <path class="cyl" d="M260,234.5 L271.5,229.5 M260.5,239 L272,234"/>
  <!-- 20 -->
  <path class="cy" d="M369,145.5 L381,141.8 L382.5,144 L378,146 L377,149.4 L373,149.6 L372.5,147.5 L369.5,148 Z"/>
  <!-- 17 -->
  <path class="cy" d="M324.1,222.3 L376.3,193.5 L406.3,209 L355.4,240.3 Z"/>
  <ellipse cx="376.3" cy="201" rx="7" ry="4.2" class="cyl"/>
  <ellipse cx="360.3" cy="210.8" rx="7" ry="4.2" class="cyl"/>
  <ellipse cx="391.6" cy="209.5" rx="7" ry="4.2" class="cyl"/>
  <ellipse cx="376.3" cy="219.4" rx="7" ry="4.2" class="cyl"/>
  <ellipse cx="359" cy="228.5" rx="5" ry="3.5" class="cyl"/>
  <path class="cyl" d="M335,218 L345,213 L349,216 L353,214 L353,218 L341,225 Z"/>
  <!-- 19 left -->
  <path class="cy" d="M440,136 L443.5,133.5 L446.5,137 L450,141 L448.5,143.5 L445.5,141.5 L441,139 Z"/>
  <!-- 34 -->
  <path class="cy" d="M500.5,150.5 L503.5,149.5 L506,153 L511.5,156.5 L510.5,158.5 L504.5,156 L501.5,154.5 Z"/>
  <!-- 33 left -->
  <path class="cy" d="M520.5,94.5 L524,92.5 L526.5,96 L526,99 L530.5,106.5 L528.5,107.5 L523.5,101 L521,98.5 Z"/>
  <!-- 33 top -->
  <path class="cy" d="M564,72.5 L567,70.8 L569,73 L568.5,78 L571,80.5 L572.5,85 L571,90 L567.5,90 L567.5,85 L565.5,81 L566,77 Z"/>
  <!-- 19 mid -->
  <path class="cy" d="M555,93.5 L559,91.5 L561,94 L559.5,99 L559.5,109 L556.5,109.5 L557,100 L554.5,97 Z"/>
  <!-- 19 right -->
  <path class="cy" d="M599,93.5 L603,91.5 L604.5,94 L602.5,99 L602.5,108.5 L599.5,109 L600,100 L598.5,97 Z"/>
  <!-- 16 -->
  <path class="cy" d="M474.2,169 L481.5,167.8 L507.4,181.4 C504,187 502.5,193 501.2,199.8 L473,186.3 C474.5,180 475,174 474.2,169 Z"/>
  <path class="cyl" d="M477,170 C478,176 478,181 477,186 M480.5,171.5 C481.5,177 481.5,183 480.5,188.5"/>
  <ellipse cx="492" cy="181" rx="3.5" ry="3.2" class="cyl"/>
  <path class="cyl" d="M485,185 L495,189 L494.5,194 L484.5,190 Z"/>
  <!-- 10 -->
  <path class="cy" style="fill:#f6fbfe;stroke-width:1" d="M547.3,137.3 L569.2,127 L597,143 L573.8,153.5 C567,160 562,168 555.4,180 C548,175 541,169 534.6,162.7 C535,155 540,145 547.3,137.3 Z"/>
  <path class="cyl" d="M547.3,137.3 L573.8,153.5"/>
  <path fill="none" stroke="#2fa6d2" stroke-width="1.7" stroke-linecap="round" d="M549.4,142.6 Q541.1,151.8 539.1,162.1 M553.8,145.4 Q545.1,154.7 542.8,165.0 M558.2,148.2 Q549.1,157.5 546.4,167.9 M562.6,151.0 Q553.1,160.4 550.1,170.8 M566.9,153.7 Q557.1,163.2 553.7,173.7"/>
  <path fill="none" stroke="#2fa6d2" stroke-width="1.6" d="M556,139 L574,130 M558.5,141 L576.5,132 M561,143 L579,134"/>
  <!-- 24 -->
  <ellipse cx="608.5" cy="310.5" rx="6.3" ry="8.3" fill="#fff" stroke="#7cc4e2" stroke-width="1.1" stroke-dasharray="2.2 0.8" transform="rotate(25 608.5 310.5)"/>
  <ellipse cx="608.5" cy="310.5" rx="3.5" ry="5" fill="none" stroke="#9fd3ea" stroke-width="0.8" transform="rotate(25 608.5 310.5)"/>
  <!-- 26 -->
  <path class="cy" d="M310.2,377.7 L334.2,365.7 L342.5,371.2 L320.3,385 Z"/>
  <ellipse cx="320.5" cy="377" rx="3.5" ry="3" class="cyl"/>
  <path class="cyl" d="M327,370.5 L331,368.5 M330.5,376 L335,373.5"/>
  <!-- 25 -->
  <path d="M258.5,433.5 L266.5,438.5 L273.5,452 L264,446.5 Z" fill="none" stroke="#b0b0b0" stroke-width="0.7"/>
  <path d="M262,437 L268,446" stroke="#bbb" stroke-width="0.5"/>
  <path class="cy" style="fill:#fff" d="M256,452 C252,448.5 248,449.5 248.5,453.5 C249,457 253,458 256.5,456.5 C261,459.5 268,459.5 272,457 L276.5,458.5 L276,455 L272.5,452.5 C268,448.5 261,448.5 256,452 Z"/>
  <ellipse cx="264" cy="454" rx="5.2" ry="2.6" class="cyl"/>
  <!-- film -->
  <path d="M295.1,413.8 L306.2,419.8 L312.6,435.7 L301.1,429.2 Z" fill="#fff" stroke="#2a2a2a" stroke-width="0.9" stroke-linejoin="round"/>
  <path d="M298,418 L304,421.5 L308.5,431 M301,422 L305,426" fill="none" stroke="#999" stroke-width="0.55"/>
  <!-- 32 -->
  <path fill="#fff" stroke="#36a4cc" stroke-width="1" stroke-linejoin="round" d="M248.7,505.5 C252,502.5 255.5,500.5 259.8,499 C264,497.3 268,496.2 272.7,495.8 C279,495.6 285,496.5 291.2,498.2 C297,500 302,502 307.8,504.6 C313.5,507.8 319,511.5 324.4,515.7 C329.5,519.8 334.5,524 339.1,528.6 C343,532.5 347,536.5 350.2,540.6 C353,544 355.5,547.5 357.6,550.8 L356.7,553.5 L344.7,562.8 C340.5,558.5 336,554 331.8,549.8 C326.5,545.5 321,541.5 315.2,537.8 C308.5,532.5 301.5,527.5 294.8,523 C288,518.5 281,514.5 274.5,511 C269.5,509 264.5,507.5 259.8,506.5 Z"/>
  <path fill="none" stroke="#36a4cc" stroke-width="1.8" d="M251,506.5 C259,507 267,508.8 274.5,511.8 C288,518 301,526 315,536 C325,542.5 335,550 344,557.5"/>
  <path fill="none" stroke="#5eb3d4" stroke-width="0.8" stroke-dasharray="2.5 2" d="M272.7,497.5 C285,498.5 297,502 307.8,507.5 C320,514 332,524 343.5,535 C349,540.5 353,546 355.5,550 M292,501 L281,511 M321,519 L306,530 M348,541 L333,550"/>
  <path fill="none" stroke="#36a4cc" stroke-width="1.6" d="M285,511.5 L290,513.5 M312.5,526.5 L317,529.5 M333.5,541 L336.5,543.5 M270,500.5 L274,500.5 M342,530 L345,533"/>
  <!-- 21 -->
  <path class="cy" style="fill:#fff" d="M175.8,556 L181,553.8 L186.5,562.5 L181.5,565.4 Z"/>
  <!-- 2 -->
  <path fill="#fff" stroke="#2fa6d2" stroke-width="1.1" stroke-linejoin="round" d="M67.3,575.5 C75,578 85,581.5 96,586 C102,589 107,592 111,595 L112.5,598.5 C118,603 124,608 130,614.5 C136,621 140,626 142.3,630.8 C141,632 139.5,632 137.5,631 C133,624 128,618 122,612 C114,605 104,598 92,592 C84,588 76,585 68.5,583.5 C67,581 66.5,578 67.3,575.5 Z"/>
  <path fill="none" stroke="#2fa6d2" stroke-width="1.6" d="M68,581 C80,584 92,589 104,596 C116,604 128,615 137,628"/>
  <!-- 9 -->
  <path d="M42.3,610.8 L46.2,608.8 L80.8,628 L77,630.8 Z" fill="#bfe0f2" stroke="#2fa6d2" stroke-width="1.1" stroke-linejoin="round"/>
  <path fill="none" stroke="#2fa6d2" stroke-width="0.7" d="M44,611 L79,629.5"/>
  <!-- 29 -->
  <path class="cy" d="M38.6,751.8 C50,757 62,764 70.8,772.1 C76,780 79,790 81,801 L77.5,802.6 L75,795 L60,790 L42,788 L40.3,789 Z"/>
  <circle cx="45" cy="764" r="2.8" class="cyl"/><circle cx="54" cy="768" r="2.8" class="cyl"/><circle cx="62" cy="772.5" r="2.8" class="cyl"/>
  <circle cx="45" cy="774" r="2.8" class="cyl"/><circle cx="54" cy="778" r="2.8" class="cyl"/><circle cx="62" cy="782" r="2.8" class="cyl"/><circle cx="70" cy="787" r="2.8" class="cyl"/>
  <!-- 22 -->
  <path class="cy" style="fill:#fff" d="M432,540 C433,537 436,535.5 439,535 L448,533.5 C450,533.5 451,535 450,536.5 L440.5,541 C439,542 438.5,544 438.3,546 L438,549 C437,550.5 434,550.5 432.8,549 C431.5,546 431.5,543 432,540 Z"/>
  <path fill="none" stroke="#2fa6d2" stroke-width="1.5" d="M433.5,548.5 L433.5,541 C434,538 437,537 440,536.5"/>
  <!-- 11 -->
  <path class="cy" style="fill:#fff" d="M484.8,523 L491,520 L491,514.5 L504,508 L508,510.5 L508,517 L505.5,518 L505.5,512.5 L494,518 L494,523.5 L487.5,526.8 Z"/>
  <path fill="none" stroke="#36a4cc" stroke-width="1.4" d="M491.5,515 L505,508.8 M485.5,523.5 L491.5,520.5"/>
  <!-- 1 -->
  <path class="cy" style="fill:#fff" d="M414.8,616.8 L498,575.7 L510.2,583.7 L435.8,625.7 Z"/>
  <path fill="none" stroke="#2fa6d2" stroke-width="1.7" d="M414.8,617.5 L424.5,619 L435.8,625 M436.5,625.5 L510.2,584.3"/>
  <path class="cyl" style="stroke-width:0.8" d="M424.5,618.5 L505,580 M442,612 L453,607.5 L454,611 L443,615.5 Z M478,594 L492,588 L492.5,591 L479,597 Z M460,605 L466,602.5 M467,601 L476,597 L477,605 L469,608.5 Z M472,603 L490,596"/>
  <path fill="none" stroke="#1f7fa8" stroke-width="1.3" d="M435,617.5 L438,616.3 M489.5,585.5 L492.5,584.2 M464,602 L470,599.5"/>
  <!-- 18 -->
  <path class="cy" style="fill:#fff" d="M558.5,655.5 L566,654.6 L568.5,660 L568.5,673 L558.5,669 Z"/>
  <path class="cy" style="fill:#fff" d="M568.5,660 L575.4,658 L572,672 L568.5,673 Z"/>
  <path class="cy" style="fill:#fff" d="M564,657.5 L584.6,643.8 L587.7,645.5 L567,659.5 Z"/>
  <!-- 23 -->
  <path class="cy" d="M509.2,680.3 L516,683 L524.5,690 L524,701.2 L517,698 L509.8,693 Z"/>
  <path class="cyl" d="M512,685 L521,690.5 L521,697 L512,691.5 Z M514,688.5 L519.5,691.5"/>
  <!-- 31 -->
  <use href="#p31"/>
  <use href="#p31" x="147" y="-91"/>
  </g>

<g id="leaders">
<path class="ln" d="M126.4,76.0 L126.4,142.6"/><path d="M126.4,142.6 L123.6,131.1 L129.2,131.1 Z" fill="#111"/>
<path class="ln" d="M213.5,89.5 L213.5,141.5"/>
<path class="ln" d="M55.2,211.0 L114.5,178.0"/><path d="M114.5,178.0 L105.8,186.0 L103.1,181.2 Z" fill="#111"/>
<path class="ln" d="M255.7,222.5 L148.0,161.7"/><path d="M148.0,161.7 L159.4,164.9 L156.7,169.8 Z" fill="#111"/>
<path class="ln" d="M375.0,149.4 L375.0,161.7"/>
<path class="ln" d="M375.0,161.7 L340.6,180.2 L340.6,213.4"/><path d="M340.6,213.4 L337.8,201.9 L343.4,201.9 Z" fill="#111"/>
<path class="ln" d="M375.0,161.7 L360.3,170.3 L360.3,201.0"/><path d="M360.3,201.0 L357.5,189.5 L363.1,189.5 Z" fill="#111"/>
<path class="ln" d="M375.0,161.7 L375.0,196.0"/><path d="M375.0,196.0 L372.2,184.5 L377.8,184.5 Z" fill="#111"/>
<path class="ln" d="M375.0,161.7 L391.6,170.3 L391.6,204.8"/><path d="M391.6,204.8 L388.8,193.3 L394.4,193.3 Z" fill="#111"/>
<path class="ln" d="M366.5,237.8 L366.5,266.2 L446.0,220.6 L446.0,303.5"/><path d="M446.0,303.5 L443.2,292.0 L448.8,292.0 Z" fill="#111"/>
<path class="ln" d="M449.5,143.2 L479.0,168.0"/>
<path class="ln" d="M487.0,196.2 L487.2,279.0"/><path d="M487.2,279.0 L484.4,267.5 L490.0,267.5 Z" fill="#111"/>
<path class="ln" d="M511.0,158.0 L554.0,175.2"/>
<path class="ln" d="M511.0,158.6 L552.0,177.5"/>
<path class="ln" d="M578.5,159.2 L578.5,170.8 L510.4,210.0 L510.4,249.5"/><path d="M510.4,249.5 L507.6,238.0 L513.2,238.0 Z" fill="#111"/>
<path class="ln" d="M529.4,107.7 L550.3,149.5"/>
<path class="ln" d="M531.5,106.5 L552.5,148.5"/>
<path class="ln" d="M557.7,110.2 L557.7,141.0"/>
<path class="ln" d="M569.3,90.5 L569.3,134.8"/>
<path class="ln" d="M600.3,109.0 L600.3,122.5 L573.7,107.7 L573.7,137.2"/>
<path class="ln" d="M576.0,106.0 L576.0,136.0"/>
<path class="ln" d="M603.0,306.8 L592.8,300.3 L552.2,323.4 L508.3,298.8"/><path d="M508.3,298.8 L519.7,302.0 L517.0,306.9 Z" fill="#111"/>
<path class="ln" d="M339.7,366.6 L388.6,339.0"/><path d="M388.6,339.0 L379.9,347.1 L377.2,342.2 Z" fill="#111"/>
<path class="ln" d="M520.0,405.4 L447.7,363.0"/><path d="M447.7,363.0 L459.0,366.4 L456.2,371.3 Z" fill="#111"/>
<path class="ln" d="M309.0,433.8 L280.0,452.5"/><path d="M280.0,452.5 L288.2,443.9 L291.2,448.6 Z" fill="#111"/>
<path class="ln" d="M260.6,459.2 L260.4,579.0"/><path d="M260.4,579.0 L257.6,567.5 L263.2,567.5 Z" fill="#111"/>
<path class="ln" d="M268.3,459.2 L268.3,498.0"/><path d="M268.3,498.0 L265.5,486.5 L271.1,486.5 Z" fill="#111"/>
<path class="ln" d="M292.5,525.0 L293.2,586.5"/><path d="M293.2,586.5 L290.3,575.0 L295.9,575.0 Z" fill="#111"/>
<path class="ln" d="M272.3,555.7 L265.0,578.0"/>
<path class="ln" d="M212.1,598.5 L241.0,594.8"/>
<path class="ln" d="M186.3,560.3 L238.3,588.3"/><path d="M238.3,588.3 L226.9,585.3 L229.5,580.3 Z" fill="#111"/>
<path class="ln" d="M69.0,573.8 L84.1,565.4 L195.0,629.5 L262.3,591.0"/><path d="M262.3,591.0 L253.7,599.2 L250.9,594.3 Z" fill="#111"/>
<path class="ln" d="M177.2,670.3 L278.0,613.2"/><path d="M278.0,613.2 L269.3,621.3 L266.6,616.4 Z" fill="#111"/>
<path class="ln" d="M109.7,706.0 L146.9,685.7"/><path d="M146.9,685.7 L138.1,693.7 L135.5,688.7 Z" fill="#111"/>
<path class="ln" d="M70.8,770.3 L121.5,745.0"/><path d="M121.5,745.0 L112.5,752.6 L110.0,747.6 Z" fill="#111"/>
<path class="ln" d="M131.7,815.0 L131.7,773.7"/><path d="M131.7,773.7 L134.5,785.2 L128.9,785.2 Z" fill="#111"/>
<path class="ln" d="M259.2,649.7 L263.5,676.6"/>
<path class="ln" d="M271.0,656.0 L264.0,676.6"/>
<path class="ln" d="M303.0,664.8 L294.8,620.6"/>
<path class="ln" d="M303.5,664.8 L300.5,623.0"/>
<path class="ln" d="M276.8,652.0 L276.8,725.8"/>
<path class="ln" d="M435.7,550.0 L435.7,611.7"/><path d="M435.7,611.7 L432.9,600.2 L438.5,600.2 Z" fill="#111"/>
<path class="ln" d="M489.8,526.8 L489.8,579.7"/><path d="M489.8,579.7 L487.0,568.2 L492.6,568.2 Z" fill="#111"/>
<path class="ln" d="M467.7,608.0 L467.7,764.3 L524.5,732.9 L524.5,834.5"/><path d="M524.5,834.5 L521.7,823.0 L527.3,823.0 Z" fill="#111"/>
<path class="ln" d="M523.2,688.4 L560.2,668.7"/><path d="M560.2,668.7 L551.4,676.6 L548.7,671.6 Z" fill="#111"/>
<path class="ln" d="M588.5,649.5 L589.0,778.0"/><path d="M589.0,778.0 L586.2,766.5 L591.8,766.5 Z" fill="#111"/>
</g>
<g id="legend"><rect x="566.8" y="235.9" width="35.5" height="13.2" fill="#f9dac8" stroke="#333" stroke-width="1"/>
<rect x="605.8" y="240.6" width="5.2" height="1.3" fill="#222"/><rect x="605.8" y="243.4" width="5.2" height="1.3" fill="#222"/></g>
<g id="labels">
<text x="126.2" y="41.2" class="lb" textLength="10.8" lengthAdjust="spacingAndGlyphs">12</text>
<text x="50.6" y="239.4" class="lb" textLength="6.7" lengthAdjust="spacingAndGlyphs">6</text>
<text x="279.9" y="242.9" class="lb" textLength="12.0" lengthAdjust="spacingAndGlyphs">28</text>
<text x="178.7" y="115.1" class="bk" textLength="13.6" lengthAdjust="spacingAndGlyphs">7A</text>
<text x="367.9" y="137.0" class="lb" textLength="12.5" lengthAdjust="spacingAndGlyphs">20</text>
<text x="384.7" y="136.6" class="bk" textLength="27.6" lengthAdjust="spacingAndGlyphs">4pcs.</text>
<text x="426.4" y="134.0" class="lb" textLength="11.9" lengthAdjust="spacingAndGlyphs">19</text>
<text x="328.5" y="243.9" class="lb" textLength="12.5" lengthAdjust="spacingAndGlyphs">17</text>
<text x="467.7" y="199.3" class="lb" textLength="12.3" lengthAdjust="spacingAndGlyphs">16</text>
<text x="484.1" y="136.7" class="bk" textLength="28.5" lengthAdjust="spacingAndGlyphs">2pcs.</text>
<text x="486.5" y="151.2" class="lb" textLength="13.3" lengthAdjust="spacingAndGlyphs">34</text>
<text x="560.9" y="64.0" class="lb" textLength="12.7" lengthAdjust="spacingAndGlyphs">33</text>
<text x="510.7" y="77.6" class="bk" textLength="28.5" lengthAdjust="spacingAndGlyphs">2pcs.</text>
<text x="513.4" y="89.6" class="lb" textLength="13.0" lengthAdjust="spacingAndGlyphs">33</text>
<text x="544.9" y="91.1" class="lb" textLength="13.3" lengthAdjust="spacingAndGlyphs">19</text>
<text x="595.2" y="72.3" class="bk" textLength="28.8" lengthAdjust="spacingAndGlyphs">2pcs.</text>
<text x="597.9" y="86.2" class="lb" textLength="12.0" lengthAdjust="spacingAndGlyphs">19</text>
<text x="601.0" y="148.9" class="lb" textLength="12.4" lengthAdjust="spacingAndGlyphs">10</text>
<text x="620.1" y="311.7" class="lb" textLength="11.9" lengthAdjust="spacingAndGlyphs">24</text>
<text x="558.7" y="350.6" class="lb" textLength="12.5" lengthAdjust="spacingAndGlyphs">30</text>
<text x="309.5" y="366.4" class="lb" textLength="13.0" lengthAdjust="spacingAndGlyphs">26</text>
<text x="384.8" y="311.6" class="bk" textLength="13.5" lengthAdjust="spacingAndGlyphs">7A</text>
<text x="228.9" y="453.4" class="lb" textLength="14.7" lengthAdjust="spacingAndGlyphs">25</text>
<text x="313.1" y="423.9" class="bk" textLength="23.8" lengthAdjust="spacingAndGlyphs">film</text>
<text x="318.5" y="501.6" class="lb" textLength="14.7" lengthAdjust="spacingAndGlyphs">32</text>
<text x="314.2" y="583.4" class="bk" textLength="21.6" lengthAdjust="spacingAndGlyphs">10B</text>
<text x="158.1" y="554.6" class="lb" textLength="14.6" lengthAdjust="spacingAndGlyphs">21</text>
<text x="56.1" y="593.4" class="lb" textLength="8.0" lengthAdjust="spacingAndGlyphs">2</text>
<text x="39.7" y="631.9" class="lb" textLength="7.6" lengthAdjust="spacingAndGlyphs">9</text>
<text x="97.5" y="675.9" class="lb" textLength="6.6" lengthAdjust="spacingAndGlyphs">3</text>
<text x="32.7" y="723.7" class="lb" textLength="6.2" lengthAdjust="spacingAndGlyphs">4</text>
<text x="39.1" y="803.4" class="lb" textLength="14.7" lengthAdjust="spacingAndGlyphs">29</text>
<text x="99.0" y="861.4" class="lb" textLength="12.9" lengthAdjust="spacingAndGlyphs">31</text>
<text x="261.7" y="778.2" class="lb" textLength="12.4" lengthAdjust="spacingAndGlyphs">31</text>
<text x="427.7" y="529.9" class="lb" textLength="13.3" lengthAdjust="spacingAndGlyphs">22</text>
<text x="486.3" y="507.2" class="lb" textLength="11.1" lengthAdjust="spacingAndGlyphs">11</text>
<text x="423.2" y="636.9" class="lb" textLength="5.3" lengthAdjust="spacingAndGlyphs">1</text>
<text x="548.1" y="648.9" class="lb" textLength="13.3" lengthAdjust="spacingAndGlyphs">18</text>
<text x="498.2" y="703.1" class="lb" textLength="12.0" lengthAdjust="spacingAndGlyphs">23</text>
<text x="446.5" y="879.8" class="bk" textLength="14.0" lengthAdjust="spacingAndGlyphs">1C</text>
</g><g id="icons">
<use href="#chk" x="560" y="40"/>
<use href="#chk" x="450.5" y="189.8"/>
<use href="#chk" x="599.7" y="152.3"/>
<use href="#chk" x="573" y="340.4"/>
<use href="#chk" x="211.4" y="442.3"/>
<use href="#chk" x="333.3" y="491.3"/>
<use href="#chk" x="245.4" y="768.3"/>
<use href="#chk" x="80.2" y="850"/>
<use href="#chk" x="410.2" y="520"/>
<use href="#chk" x="469.3" y="496.7"/>
<use href="#chk" x="418.5" y="639.3"/>
<use href="#chk" x="529.9" y="639.2"/>
<use href="#pnt" x="206.3" y="75.9"/>
<use href="#pnt" x="614" y="235.1"/>
<use href="#pnt" x="265" y="541"/>
<use href="#pnt" x="256.4" y="676.6"/>
<use href="#hrd" x="197.2" y="592.6"/>
<use href="#hrd" x="296.3" y="664.8"/>
</g>
</svg>
</body></html>
